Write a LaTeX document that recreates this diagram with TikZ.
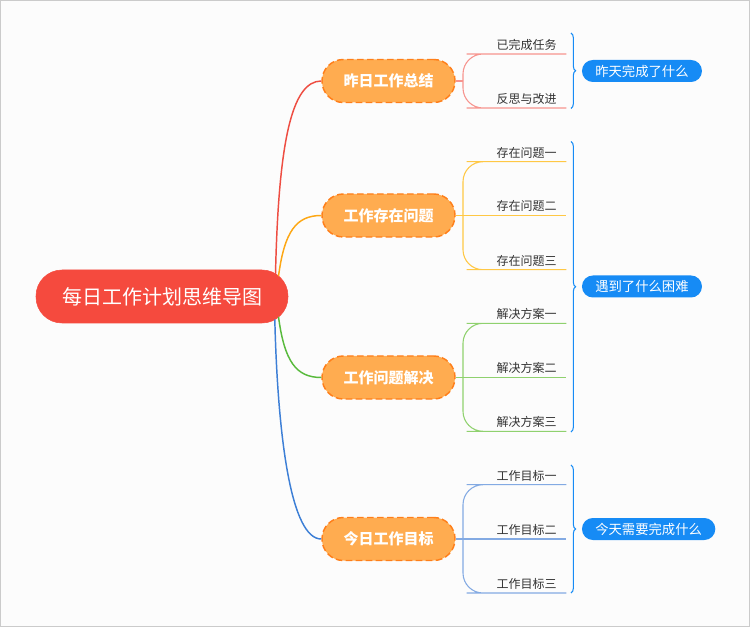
\documentclass[tikz,border=0pt]{standalone}
\usepackage{fontspec}
\usepackage{xcolor}
\usetikzlibrary{decorations.pathreplacing}
\newfontfamily\cjk{Noto Sans CJK SC}
\definecolor{bgcol}{HTML}{FCFCFC}
\definecolor{framegray}{HTML}{CBCBCB}
\definecolor{rootred}{HTML}{F54A3E}
\definecolor{branchfill}{HTML}{FFAC50}
\definecolor{branchline}{HTML}{FF7F1A}
\definecolor{tagblue}{HTML}{168BF5}
\definecolor{leaftext}{HTML}{333333}
\definecolor{linered}{HTML}{EE4D42}
\definecolor{lineorange}{HTML}{FDA714}
\definecolor{linegreen}{HTML}{58BA3C}
\definecolor{lineblue}{HTML}{3D7FD6}
\definecolor{lightred}{HTML}{F7948E}
\definecolor{lightorange}{HTML}{FFC845}
\definecolor{lightgreen}{HTML}{8FD16E}
\definecolor{lightblue}{HTML}{83AAE3}

\begin{document}
\begin{tikzpicture}[x=0.75pt,y=-0.75pt,
		rootbox/.style={fill=rootred,draw=rootred,rounded corners=19.5pt,minimum width=189pt,minimum height=39.75pt,inner sep=0pt,text=white,font=\cjk\fontsize{15}{18}\selectfont},
		branchbox/.style={fill=branchfill,draw=branchline,line width=1.1pt,dash pattern=on 5pt off 2.5pt,rounded corners=16pt,minimum width=99.75pt,minimum height=32.25pt,inner sep=0pt,text=white,font=\cjk\bfseries\fontsize{11.25}{13}\selectfont},
		leaf/.style={anchor=south,minimum width=59.25pt,inner xsep=0pt,inner ysep=2.5pt,text=leaftext,font=\cjk\fontsize{9}{11}\selectfont},
		tag/.style={anchor=west,fill=tagblue,rounded corners=8.2pt,minimum height=16.5pt,inner xsep=10pt,inner ysep=0pt,text=white,font=\cjk\fontsize{10}{12}\selectfont},
		mainline/.style={line width=1.1pt},
		leafline/.style={line width=0.8pt},
		bracket/.style={draw=tagblue,line width=0.8pt,decorate,decoration={brace,amplitude=3.5pt}}]
	\useasboundingbox (0,0) rectangle (750,627);
	\fill[bgcol,draw=framegray] (0.5,0.5) rectangle (749.5,626.5);
	% root and branches
	\node[rootbox] (root) at (162,296.5) {每日工作计划思维导图};
	\node[branchbox] (b1) at (388.5,81) {昨日工作总结};
	\node[branchbox] (b2) at (388.5,215.5) {工作存在问题};
	\node[branchbox] (b3) at (388.5,377.5) {工作问题解决};
	\node[branchbox] (b4) at (388.5,539) {今日工作目标};
	\coordinate (r1) at (275.5,274);
	\coordinate (r2) at (278.5,276.2);
	\coordinate (r3) at (278.5,316.8);
	\coordinate (r4) at (274.8,319.4);
	\draw[mainline,linered] (r1) .. controls +(3,-130) and +(-30,0) .. (b1.west);
	\draw[mainline,lineorange] (r2) .. controls +(6,-45) and +(-25,0) .. (b2.west);
	\draw[mainline,linegreen] (r3) .. controls +(6,45) and +(-25,0) .. (b3.west);
	\draw[mainline,lineblue] (r4) .. controls +(3,120) and +(-30,0) .. (b4.west);
	% leaves
	\node[leaf] (l11) at (526.5,54) {已完成任务};
	\node[leaf] (l12) at (526.5,108) {反思与改进};
	\node[leaf] (l21) at (526.5,161.7) {存在问题一};
	\node[leaf] (l22) at (526.5,215.5) {存在问题二};
	\node[leaf] (l23) at (526.5,269.7) {存在问题三};
	\node[leaf] (l31) at (526.5,323.3) {解决方案一};
	\node[leaf] (l32) at (526.5,377.5) {解决方案二};
	\node[leaf] (l33) at (526.5,431.3) {解决方案三};
	\node[leaf] (l41) at (526.5,484.7) {工作目标一};
	\node[leaf] (l42) at (526.5,539) {工作目标二};
	\node[leaf] (l43) at (526.5,593) {工作目标三};
	\coordinate (f1) at (463,81);
	\coordinate (f2) at (463,215.5);
	\coordinate (f3) at (463,377.5);
	\coordinate (f4) at (463,539);
	\draw[leafline,lightred] (b1.east) -- (f1);
	\draw[leafline,lightred,rounded corners=15pt] (f1) |- (l11.south west) -- (l11.south east);
	\draw[leafline,lightred,rounded corners=15pt] (f1) |- (l12.south west) -- (l12.south east);
	\draw[leafline,lightorange] (b2.east) -- (l22.south east);
	\draw[leafline,lightorange,rounded corners=15pt] (f2) |- (l21.south west) -- (l21.south east);
	\draw[leafline,lightorange,rounded corners=15pt] (f2) |- (l23.south west) -- (l23.south east);
	\draw[leafline,lightgreen] (b3.east) -- (l32.south east);
	\draw[leafline,lightgreen,rounded corners=15pt] (f3) |- (l31.south west) -- (l31.south east);
	\draw[leafline,lightgreen,rounded corners=15pt] (f3) |- (l33.south west) -- (l33.south east);
	\draw[leafline,lightblue] (b4.east) -- (l42.south east);
	\draw[leafline,lightblue,rounded corners=15pt] (f4) |- (l41.south west) -- (l41.south east);
	\draw[leafline,lightblue,rounded corners=15pt] (f4) |- (l43.south west) -- (l43.south east);
	% braces and tags
	\draw[bracket] (571,33) -- (571,108.5);
	\draw[bracket] (571,141.5) -- (571,432);
	\draw[bracket] (571,465) -- (571,593);
	\node[tag] (t1) at (581.7,71) {昨天完成了什么};
	\node[tag] (t2) at (581.7,286.5) {遇到了什么困难};
	\node[tag] (t3) at (581.7,529) {今天需要完成什么};
\end{tikzpicture}
\end{document}
